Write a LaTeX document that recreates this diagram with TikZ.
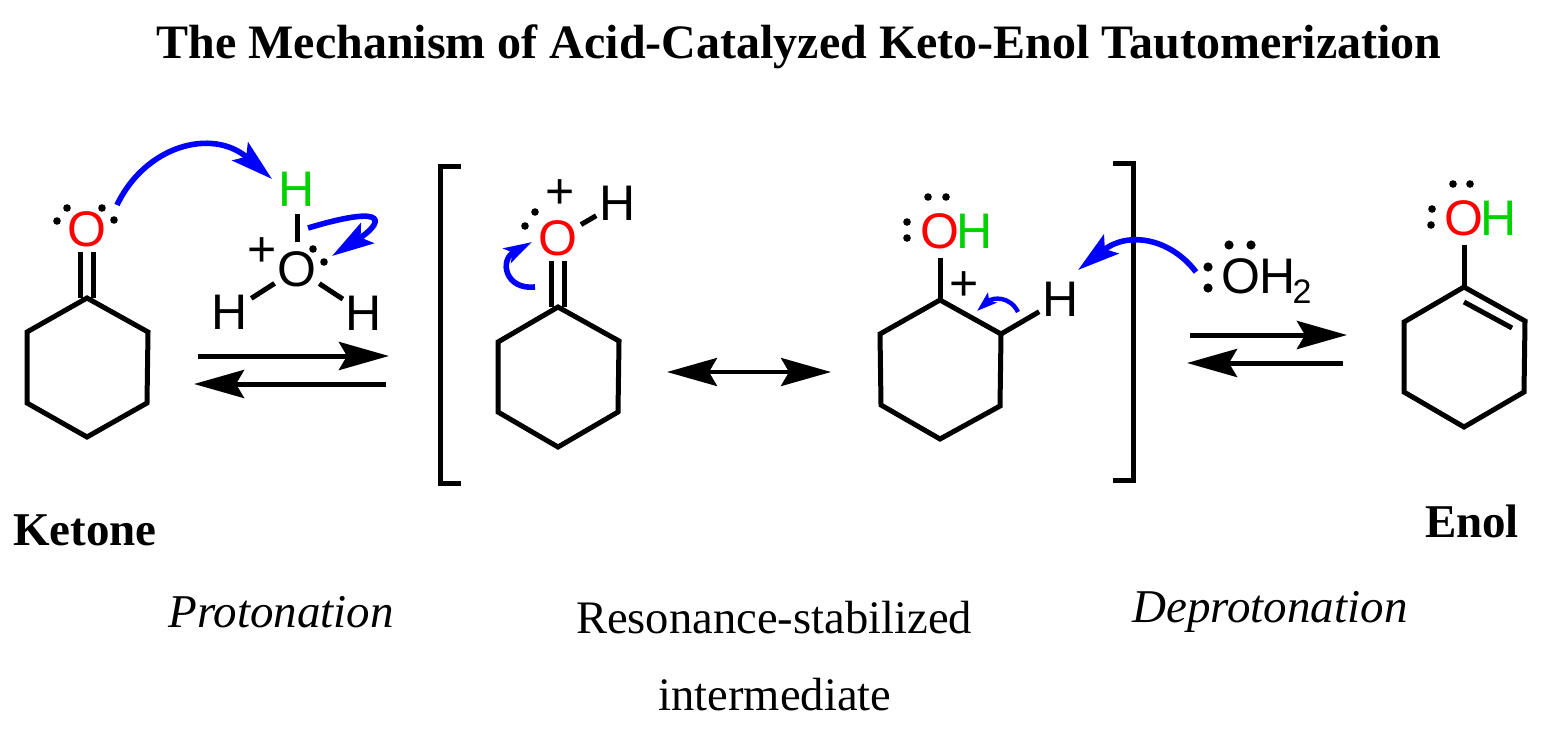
\documentclass[tikz,border=0pt]{standalone}
\usepackage{fontspec}
\setmainfont{Liberation Serif}
\newfontfamily\atomfont{Liberation Sans}
\usetikzlibrary{positioning,arrows.meta}
\definecolor{hgreen}{RGB}{0,210,0}
\tikzset{
	atom/.style={circle,inner sep=0pt,font=\atomfont\fontsize{25}{28}\selectfont},
	oxyred/.style={atom,text=red},
	hgrn/.style={atom,text=hgreen},
	subtwo/.style={inner sep=0pt,font=\atomfont\fontsize{17}{20}\selectfont},
	label/.style={inner sep=0pt,anchor=base,font=\fontsize{23.3}{28}\selectfont},
	boldlabel/.style={label,font=\bfseries\fontsize{23.5}{28}\selectfont},
	itlabel/.style={label,font=\itshape\fontsize{23.5}{28}\selectfont},
	bond/.style={line width=2.5pt,black},
	eqarrow/.style={line width=2.5pt,-{Stealth[length=25pt,width=14pt,inset=4pt]}},
	resarrow/.style={line width=2pt,{Stealth[length=25pt,width=14pt,inset=4pt]}-{Stealth[length=25pt,width=14pt,inset=4pt]}},
	bigpush/.style={line width=2.8pt,blue,-{Stealth[length=21pt,width=12pt,inset=4pt]}},
	midpush/.style={line width=2.8pt,blue,-{Stealth[length=14pt,width=8pt,inset=3pt]}},
	tinypush/.style={line width=2.2pt,blue,-{Stealth[length=10pt,width=6.5pt,inset=2pt]}},
}
\begin{document}
\begin{tikzpicture}[x=0.5pt,y=-0.5pt]
\useasboundingbox (0,0) rectangle (1545,728);
% titles
\node[boldlabel,font=\bfseries\fontsize{24}{28}\selectfont] (title) at (799,58) {The Mechanism of Acid-Catalyzed Keto-Enol Tautomerization};
\node[boldlabel] (ketone) at (85,545) {Ketone};
\node[boldlabel] (enol) at (1472,537) {Enol};
\node[itlabel] (prot) at (281,627) {Protonation};
\node[itlabel] (deprot) at (1270,622) {Deprotonation};
\node[label] (reso) at (774,633) {Resonance-stabilized};
\node[label] (inter) at (775,710) {intermediate};
% ring corners
\foreach[count=\c] \x/\y in {87/298,148/332,147/403,87/437,27/403,27/332}
	\coordinate (a\c) at (\x,\y);
\foreach[count=\c] \x/\y in {558/307,619/341,618/412,558/447,498/412,498/342}
	\coordinate (b\c) at (\x,\y);
\foreach[count=\c] \x/\y in {940/300,1001/334,1000/406,940/439,881/405,880/334}
	\coordinate (c\c) at (\x,\y);
\foreach[count=\c] \x/\y in {1464/287,1525/321,1524/392,1464/427,1404/392,1404/322}
	\coordinate (d\c) at (\x,\y);
\foreach \r in {a,b,c,d}
	\draw[bond] (\r1)--(\r2)--(\r3)--(\r4)--(\r5)--(\r6)--cycle;
% atoms
\node[oxyred] (o1) at (87,229) {O};
\node[hgrn] (h1) at (297,189) {H};
\node[atom] (o2) at (297,269) {O};
\node[atom] (h2) at (230,312) {H};
\node[atom] (h3) at (364,313) {H};
\node[atom] (plus1) at (262,252) {+};
\node[oxyred] (o3) at (558,238) {O};
\node[atom] (h4) at (618,203) {H};
\node[atom] (plus2) at (560,194) {+};
\node[oxyred] (o4) at (940,231) {O};
\node[hgrn] (h5) at (975,231) {H};
\node[atom] (plus3) at (964,286) {+};
\node[atom] (h6) at (1061,299) {H};
\node[atom] (o5) at (1241,276) {O};
\node[atom] (h7) at (1278,276) {H};
\node[subtwo] (two) at (1302,292) {2};
\node[oxyred] (o6) at (1464,218) {O};
\node[hgrn] (h8) at (1499,218) {H};
% bonds
\foreach \x/\y in {h1/o2,o2/h2,o2/h3,o3/h4,o4/c1,c2/h6,o6/d1}
	\draw[bond](\x)--(\y);
% double bonds
\coordinate (k1) at (80,252);
\coordinate (k2) at (93,252);
\coordinate (k3) at (551,261);
\coordinate (k4) at (564,261);
\coordinate (k5) at (1464,302);
\coordinate (k6) at (1512,328);
\draw[bond](k1)--(k1|-a1);
\draw[bond](k2)--(k2|-a1);
\draw[bond](k3)--(k3|-b1);
\draw[bond](k4)--(k4|-b1);
\draw[bond](k5)--(k6);
% lone pairs
\foreach \x/\y in {67/208,57/221,102/208,114/220,313/249,324/262,535/212,525/226,928/197,946/197,907/222,907/238,1453/184,1470/184,1432/209,1431/225}
	\fill (\x,\y) circle (3.8);
\foreach \x/\y in {1229/245,1251/245,1208/267,1208/288}
	\fill (\x,\y) circle (4.6);
% brackets
\coordinate (bl1) at (461,166);
\coordinate (bl2) at (440,166);
\coordinate (bl3) at (440,483);
\coordinate (bl4) at (461,483);
\coordinate (br1) at (1113,163);
\coordinate (br2) at (1133,163);
\coordinate (br3) at (1133,480);
\coordinate (br4) at (1113,480);
\draw[bond](bl1)--(bl2)--(bl3)--(bl4);
\draw[bond](br1)--(br2)--(br3)--(br4);
% equilibrium arrows
\coordinate (e1) at (198,356);
\coordinate (e2) at (389,356);
\coordinate (e3) at (386,384);
\coordinate (e4) at (194,384);
\coordinate (e5) at (1190,335);
\coordinate (e6) at (1347,335);
\coordinate (e7) at (1343,363);
\coordinate (e8) at (1187,363);
\coordinate (r1) at (667,372);
\coordinate (r2) at (831,372);
\foreach \x/\y in {e1/e2,e3/e4,e5/e6,e7/e8}
	\draw[eqarrow](\x)--(\y);
\draw[resarrow](r1)--(r2);
% electron pushing
\coordinate (p1) at (117,205);
\coordinate (p2) at (272,179);
\coordinate (p3) at (308,228);
\coordinate (p4) at (332,256);
\coordinate (p5) at (535,287);
\coordinate (p6) at (532,242);
\coordinate (p7) at (1018,312);
\coordinate (p8) at (977,311);
\coordinate (p9) at (1196,272);
\coordinate (p10) at (1078,270);
\draw[bigpush](p1) .. controls (145,146) and (212,127) .. (p2);
\draw[bigpush](p3) .. controls (395,202) and (380,225) .. (p4);
\draw[midpush](p5) .. controls (505,290) and (499,260) .. (p6);
\draw[tinypush](p7) .. controls (1010,296) and (993,297) .. (p8);
\draw[bigpush](p9) .. controls (1170,238) and (1128,231) .. (p10);
\end{tikzpicture}
\end{document}
